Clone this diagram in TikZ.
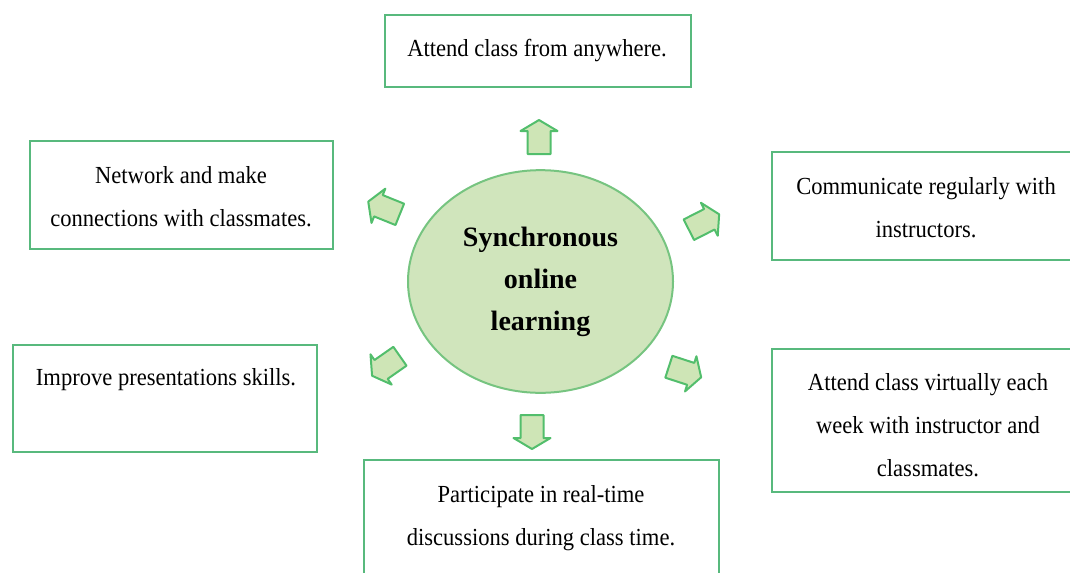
\documentclass[tikz,border=0pt]{standalone}
\usepackage{fontspec}
\setmainfont{Liberation Serif}
\newfontfamily\boxfont[FakeStretch=0.92]{Liberation Serif}
\usetikzlibrary{shapes.geometric}
\definecolor{boxline}{RGB}{88,185,125}
\definecolor{arrowline}{RGB}{82,190,108}
\definecolor{arrowfill}{RGB}{206,229,182}
\definecolor{hubfill}{RGB}{208,229,188}
\definecolor{hubline}{RGB}{118,196,128}
\begin{document}
\begin{tikzpicture}[x=0.75pt,y=-0.75pt,
  box/.style={draw=boxline, line width=1.5pt, fill=white, inner sep=0pt},
  txt/.style={align=center, inner sep=0pt, font=\boxfont\fontsize{18.4}{32.3}\selectfont},
  hub/.style={ellipse, draw=hubline, line width=1.5pt, fill=hubfill, inner sep=0pt,
    align=center, font=\fontsize{21}{31.5}\selectfont\bfseries},
  barrow/.pic={
    \draw[arrowline, line width=1.5pt, fill=arrowfill, line join=round]
      (-17,-11.5) -- (6,-11.5) -- (6,-18.5) -- (17,0) -- (6,18.5) -- (6,11.5) -- (-17,11.5) -- cycle;
  }]
\useasboundingbox (0,0) rectangle (1070,572);

% central topic
\node[hub, minimum width=198.75pt, minimum height=167pt] (hub) at (540.5,281.5)
  {Synchronous\\online\\learning};

% surrounding boxes
\node[box, minimum width=229.5pt, minimum height=54pt] (b1) at (538,51) {};
\node[box, minimum width=227.25pt, minimum height=81pt] (b2) at (181.5,195) {};
\node[box, minimum width=231pt, minimum height=81pt] (b3) at (926,206) {};
\node[box, minimum width=228pt, minimum height=80.25pt] (b4) at (165,398.5) {};
\node[box, minimum width=231pt, minimum height=107.25pt] (b5) at (926,420.5) {};
\node[box, minimum width=266.25pt, minimum height=97.5pt] (b6) at (541.5,525) {};

% box texts
\node[txt] (t1) at (537,51) {Attend class from anywhere.};
\node[txt] (t2) at (181,197) {Network and make\\connections with classmates.};
\node[txt] (t3) at (926,208) {Communicate regularly with\\instructors.};
\node[txt] (t4) at (166,380) {Improve presentations skills.};
\node[txt] (t5) at (928,425) {Attend class virtually each\\week with instructor and\\classmates.};
\node[txt] (t6) at (541,518) {Participate in real-time\\discussions during class time.};

% block arrows pointing outwards
\pic[rotate=90] at (539,137) {barrow};
\pic[rotate=-90] at (532,432) {barrow};
\pic[rotate=158] at (384,208) {barrow};
\pic[rotate=27] at (704,222) {barrow};
\pic[rotate=215] at (386,366) {barrow};
\pic[rotate=-18] at (685,372) {barrow};
\end{tikzpicture}
\end{document}
